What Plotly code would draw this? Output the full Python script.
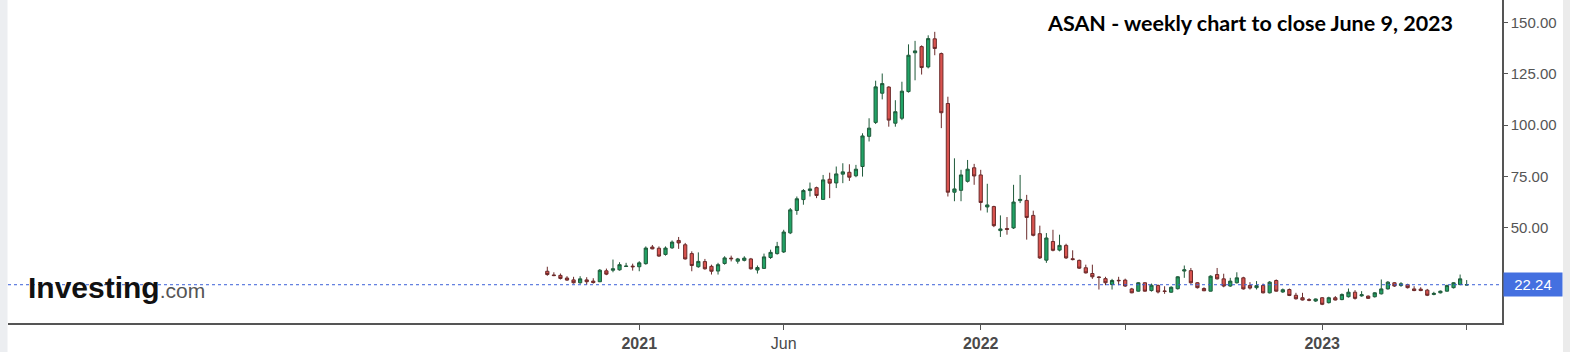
import pandas as pd
import plotly.graph_objects as go

# ---- data (weekly candles, week starting Monday) ----
weeks = pd.date_range("2020-09-28", periods=141, freq="7D")

opens = [28.8, 27.0, 26.8, 25.5, 24.6, 23.2, 24.6, 24.0, 23.7, 29.0,
         29.3, 29.5, 31.1, 31.3, 31.0, 32.5, 40.6, 40.0, 37.0, 40.2,
         43.8, 41.7, 37.4, 31.0, 33.5, 31.2, 28.9, 32.6, 35.2, 33.7,
         34.1, 34.8, 29.4, 30.2, 35.5, 37.4, 38.2, 47.5, 58.4, 63.7,
         68.1, 69.5, 63.8, 73.6, 71.8, 76.1, 77.0, 75.3, 79.8, 94.5,
         101.3, 115.5, 118.5, 100.9, 103.3, 116.3, 135.2, 138.2, 128.3, 142.0,
         134.8, 110.5, 67.3, 68.2, 72.6, 79.2, 75.7, 60.1, 60.3, 48.6,
         49.6, 49.9, 63.2, 63.3, 56.0, 47.1, 34.2, 43.3, 39.1, 41.4,
         34.9, 34.1, 30.5, 27.7, 26.0, 25.2, 22.3, 24.4, 24.5, 20.2,
         19.1, 23.2, 19.4, 21.9, 19.2, 18.6, 20.3, 28.9, 29.1, 23.2,
         20.4, 19.1, 27.2, 25.1, 21.6, 23.2, 25.6, 21.9, 20.8, 21.9,
         18.3, 24.3, 18.7, 19.9, 17.1, 15.9, 15.0, 14.3, 15.9, 13.5,
         15.9, 15.0, 16.4, 18.6, 16.8, 16.7, 16.4, 17.8, 20.2, 23.2,
         21.9, 22.3, 20.2, 20.1, 19.6, 17.5, 18.3, 19.1, 20.8, 22.3,
         22.1]
highs = [31.0, 28.3, 27.7, 26.4, 26.1, 26.4, 25.9, 25.4, 29.9, 30.1,
         34.5, 33.2, 32.9, 32.5, 33.7, 40.9, 41.6, 40.9, 40.9, 43.8,
         45.5, 42.6, 38.5, 38.0, 34.8, 32.0, 32.9, 36.1, 36.4, 35.3,
         36.1, 35.3, 31.6, 37.4, 39.3, 43.1, 49.0, 59.6, 65.2, 68.8,
         72.0, 70.0, 75.7, 76.8, 79.8, 81.4, 80.9, 80.6, 96.0, 103.3,
         121.6, 125.1, 118.9, 112.1, 121.1, 139.3, 141.0, 138.8, 143.7, 145.4,
         135.3, 113.8, 83.8, 78.2, 83.0, 81.1, 78.2, 71.4, 60.7, 56.0,
         55.2, 70.9, 75.7, 66.0, 58.3, 51.0, 47.4, 49.0, 46.6, 42.2,
         39.0, 34.5, 32.0, 32.0, 26.4, 26.1, 25.1, 26.1, 25.2, 20.7,
         23.5, 23.4, 22.8, 22.3, 21.5, 21.5, 26.4, 31.6, 30.4, 23.5,
         21.0, 26.8, 30.4, 27.6, 25.6, 28.3, 26.1, 23.5, 24.0, 22.8,
         24.0, 24.8, 20.4, 20.4, 18.3, 18.3, 15.7, 15.5, 16.2, 16.4,
         16.7, 18.0, 20.4, 19.6, 19.1, 17.0, 18.6, 24.8, 24.0, 23.5,
         23.5, 22.7, 21.5, 21.0, 20.2, 18.8, 19.4, 22.2, 23.5, 27.2,
         24.5]
lows = [26.6, 26.4, 24.8, 24.1, 22.8, 22.7, 22.2, 22.8, 23.5, 26.9,
        28.3, 29.1, 30.9, 29.1, 28.8, 32.0, 39.5, 35.8, 36.4, 39.7,
        39.7, 34.5, 28.8, 30.5, 29.6, 27.2, 27.2, 32.0, 33.6, 32.5,
        33.6, 29.6, 27.7, 29.9, 34.8, 36.9, 37.7, 46.9, 56.3, 61.2,
        65.2, 64.4, 63.6, 64.4, 69.3, 71.7, 72.8, 74.6, 74.9, 92.0,
        100.5, 112.5, 99.2, 99.2, 102.4, 115.8, 121.8, 124.6, 127.6, 134.0,
        98.5, 65.2, 62.9, 62.9, 72.0, 70.9, 58.4, 57.4, 50.3, 45.5,
        46.6, 49.4, 62.0, 44.2, 45.8, 34.8, 32.9, 38.5, 38.5, 34.8,
        34.1, 29.9, 27.7, 25.1, 19.9, 22.0, 19.9, 22.0, 21.2, 18.1,
        18.9, 18.9, 18.9, 18.0, 17.8, 18.3, 19.9, 25.6, 22.7, 20.4,
        19.1, 19.0, 24.8, 21.0, 21.2, 22.8, 19.9, 19.9, 19.9, 18.0,
        18.0, 18.9, 18.3, 16.7, 15.0, 14.6, 14.2, 13.9, 12.3, 13.1,
        14.6, 14.7, 16.0, 15.0, 16.4, 15.4, 16.0, 17.5, 19.9, 21.2,
        21.2, 20.4, 19.1, 19.1, 16.7, 17.1, 18.0, 18.9, 20.4, 22.0,
        22.0]
closes = [27.2, 26.7, 25.3, 24.5, 23.2, 25.1, 23.7, 23.3, 29.3, 27.4,
          30.0, 32.0, 31.3, 31.0, 32.9, 40.1, 39.7, 36.2, 40.1, 43.0,
          42.6, 34.8, 31.6, 33.6, 30.0, 28.8, 32.0, 35.3, 34.9, 34.8,
          35.2, 30.0, 30.6, 35.8, 38.0, 40.9, 47.9, 58.7, 64.1, 68.1,
          68.9, 65.7, 73.3, 71.7, 76.2, 77.2, 74.6, 78.5, 94.7, 98.5,
          118.6, 120.2, 102.4, 106.5, 116.5, 134.0, 136.1, 128.0, 142.1, 137.3,
          106.0, 67.3, 68.9, 75.7, 78.5, 75.2, 62.3, 61.1, 51.0, 49.4,
          49.2, 62.5, 63.8, 55.0, 46.3, 35.3, 45.0, 39.0, 41.4, 35.3,
          34.5, 30.3, 28.0, 26.1, 25.8, 23.2, 24.3, 24.2, 21.6, 18.3,
          23.2, 19.1, 22.0, 18.7, 19.0, 21.0, 26.1, 29.5, 23.2, 20.8,
          19.3, 26.4, 25.1, 21.6, 24.0, 25.6, 20.2, 20.6, 21.8, 18.3,
          23.5, 19.1, 19.8, 17.0, 15.4, 14.8, 14.7, 15.3, 12.7, 15.9,
          14.8, 17.5, 18.6, 15.6, 17.4, 15.6, 18.3, 20.2, 23.5, 21.6,
          22.7, 20.8, 19.4, 19.4, 17.1, 18.0, 19.1, 21.9, 23.2, 25.1,
          22.24]

x_tick_dates = ["2021-01-04", "2021-06-07", "2022-01-03", "2022-06-06", "2023-01-02", "2023-06-05"]
x_tick_labels = ["<b>2021</b>", "Jun", "<b>2022</b>", "", "<b>2023</b>", ""]
y_tick_values = [50, 75, 100, 125, 150]
y_tick_labels = ["50.00", "75.00", "100.00", "125.00", "150.00"]
last_price = 22.24
title_text = "ASAN - weekly chart to close June 9, 2023"

# ---- figure ----
fig = go.Figure()
fig.add_trace(go.Candlestick(
    x=weeks, open=opens, high=highs, low=lows, close=closes,
    increasing=dict(line=dict(color="#1f5a3a", width=1), fillcolor="#21a366"),
    decreasing=dict(line=dict(color="#6b2a2a", width=1), fillcolor="#d9534f"),
    whiskerwidth=0, hoverinfo="skip", showlegend=False,
))

# x range: place first candle at pixel ~547 with plot spanning 8..1502
W = 1494
px_per_day = 6.567 / 7.0
x0 = weeks[0] - pd.Timedelta(days=(547.3 - 8) / px_per_day)
x1 = weeks[0] + pd.Timedelta(days=(1502 - 547.3) / px_per_day)

fig.update_layout(
    width=1570, height=352,
    margin=dict(l=8, r=68, t=0, b=29),
    paper_bgcolor="white", plot_bgcolor="white",
    boxgap=0.3,
    xaxis=dict(
        range=[x0, x1], rangeslider=dict(visible=False),
        tickvals=x_tick_dates, ticktext=x_tick_labels,
        showgrid=False, zeroline=False,
        showline=True, linecolor="#555555", linewidth=1.5,
        ticks="outside", ticklen=5, tickcolor="#555555",
        tickfont=dict(family="Liberation Sans Narrow, Arial Narrow, Arial", size=16, color="#4a4a4a"),
    ),
    yaxis=dict(
        side="right", range=[3.6, 160.9],
        tickvals=y_tick_values, ticktext=y_tick_labels,
        showgrid=False, zeroline=False,
        showline=True, linecolor="#555555", linewidth=1.5,
        ticks="outside", ticklen=4, tickcolor="#555555",
        tickfont=dict(family="Liberation Sans, Arial", size=15, color="#555555"),
    ),
    shapes=[
        dict(type="rect", xref="paper", yref="paper", x0=-8 / W, x1=-0.5 / W, y0=-29 / 323, y1=1,
             fillcolor="#eceef1", line=dict(width=0), layer="below"),
        dict(type="rect", xref="paper", yref="paper", x0=(1563 - 8) / W, x1=(1571 - 8) / W, y0=-29 / 323, y1=1,
             fillcolor="#ebebeb", line=dict(width=0), layer="below"),
        dict(type="line", xref="paper", yref="y", x0=0, x1=1, y0=last_price, y1=last_price,
             line=dict(color="#3a5fd8", width=1, dash="dot")),
    ],
    annotations=[
        dict(xref="paper", yref="y", x=1, y=last_price, xanchor="left", yanchor="middle",
             text=str(last_price), showarrow=False, bgcolor="#4470e0",
             font=dict(family="Liberation Sans, Arial", size=15, color="white"),
             width=52, height=17, borderpad=3, align="center", xshift=0.5),
        dict(xref="paper", yref="paper", x=(26 - 8) / W, y=(323 - 287) / 323, xanchor="left", yanchor="middle",
             text="<b>Investing</b><span style='font-size:21px;color:#555555'>.com</span>",
             showarrow=False, font=dict(family="Liberation Sans, Arial", size=30, color="#111111")),
        dict(xref="paper", yref="paper", x=(1250 - 8) / W, y=(323 - 22.7) / 323, xanchor="center", yanchor="middle",
             text="<b>" + title_text + "</b>", showarrow=False,
             font=dict(family="Lato, Open Sans, sans-serif", size=21.5, color="#000000")),
    ],
)

fig.write_html("out.html")
